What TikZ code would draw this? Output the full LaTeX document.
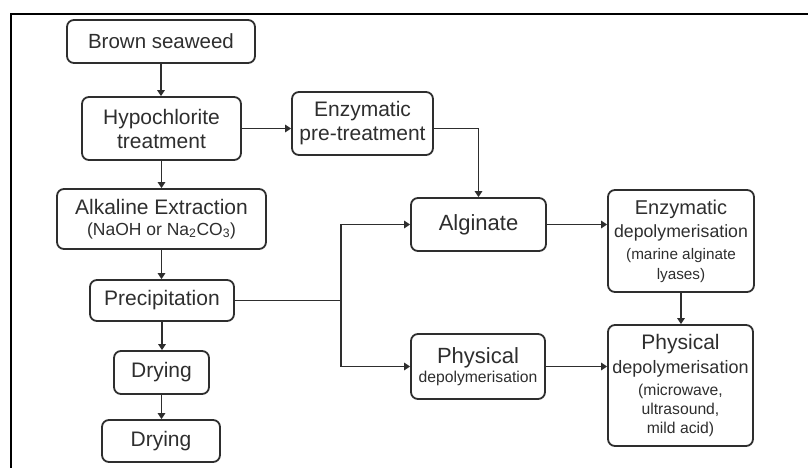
\documentclass[tikz,border=0pt]{standalone}
\usepackage{fontspec}
\setmainfont{Liberation Sans}
\usetikzlibrary{arrows.meta}
\definecolor{ink}{HTML}{2E2E2E}
\newcommand{\fsz}[2]{\fontsize{#1}{#2}\selectfont}
\begin{document}
\begin{tikzpicture}[x=1pt,y=-1pt,
  box/.style={draw=ink, line width=1.8pt, rounded corners=7pt, text=ink,
    align=center, inner sep=0pt, font=\fsz{21}{24}},
  arr/.style={draw=ink, line width=1.5pt, -{Triangle[length=6pt,width=7.5pt]}},
  ln/.style={draw=ink, line width=1.5pt}]
\useasboundingbox (0,0) rectangle (808,468);
\draw[line width=1.3pt, black] (11,468) -- (11,14) -- (808,14);

\node[box, minimum width=188pt, minimum height=43pt] (bs) at (161,41.5) {\fsz{20.5}{24}Brown seaweed};
\node[box, minimum width=159pt, minimum height=63pt] (hypo) at (161.5,128.5) {Hypochlorite\\treatment};
\node[box, minimum width=141pt, minimum height=63pt] (pre) at (362.5,123.5) {Enzymatic\\pre-treatment};
\node[box, minimum width=209pt, minimum height=60pt] (alk) at (161.5,219) {Alkaline Extraction\\[-3pt]{\fsz{17.5}{20}(NaOH or Na\textsubscript{2}CO\textsubscript{3})}};
\node[box, minimum width=144pt, minimum height=41pt] (prec) at (162,300.5) {Precipitation};
\node[box, minimum width=95pt, minimum height=43pt] (dry1) at (161.5,372.5) {Drying};
\node[box, minimum width=118pt, minimum height=42pt] (dry2) at (161,441) {Drying};
\node[box, minimum width=135pt, minimum height=53pt] (alg) at (478.5,224.5) {\fsz{22}{24}Alginate};
\node[box, minimum width=134pt, minimum height=65pt] (phys) at (478,366.5) {{\fsz{22}{24}Physical}\\[-5pt]{\fsz{15.7}{18}depolymerisation}};
\node[box, minimum width=146pt, minimum height=102pt] (enz) at (681,241) {{\fsz{20}{22}Enzymatic}\\[-1pt]{\fsz{17.7}{20}depolymerisation}\\[-2pt]{\fsz{15.3}{18}(marine alginate}\\[-4pt]{\fsz{15.3}{18}lyases)}};
\node[box, minimum width=145pt, minimum height=121pt] (big) at (680.5,385.5) {{\fsz{21}{24}Physical}\\[0pt]{\fsz{18}{22}depolymerisation}\\[-2pt]{\fsz{15.7}{18}(microwave,}\\[-5pt]{\fsz{15.7}{18}ultrasound,}\\[-5pt]{\fsz{15.7}{18}mild acid)}};

\draw[arr] (bs.south) -- (bs.south |- hypo.north);
\draw[arr] (hypo.east) -- (hypo.east -| pre.west);
\draw[arr] (pre.east |- hypo.east) -| (alg.north);
\draw[arr] (hypo.south) -- (hypo.south |- alk.north);
\draw[arr] (alk.south) -- (alk.south |- prec.north);
\draw[arr] (prec.south) -- (prec.south |- dry1.north);
\draw[arr] (dry1.south) -- (dry1.south |- dry2.north);
\coordinate (j) at (341,300.5);
\draw[ln] (prec.east) -- (j);
\draw[arr] (j) |- (alg.west);
\draw[arr] (j) |- (phys.west);
\draw[arr] (alg.east) -- (alg.east -| enz.west);
\draw[arr] (enz.south) -- (enz.south |- big.north);
\draw[arr] (phys.east) -- (phys.east -| big.west);
\end{tikzpicture}
\end{document}
